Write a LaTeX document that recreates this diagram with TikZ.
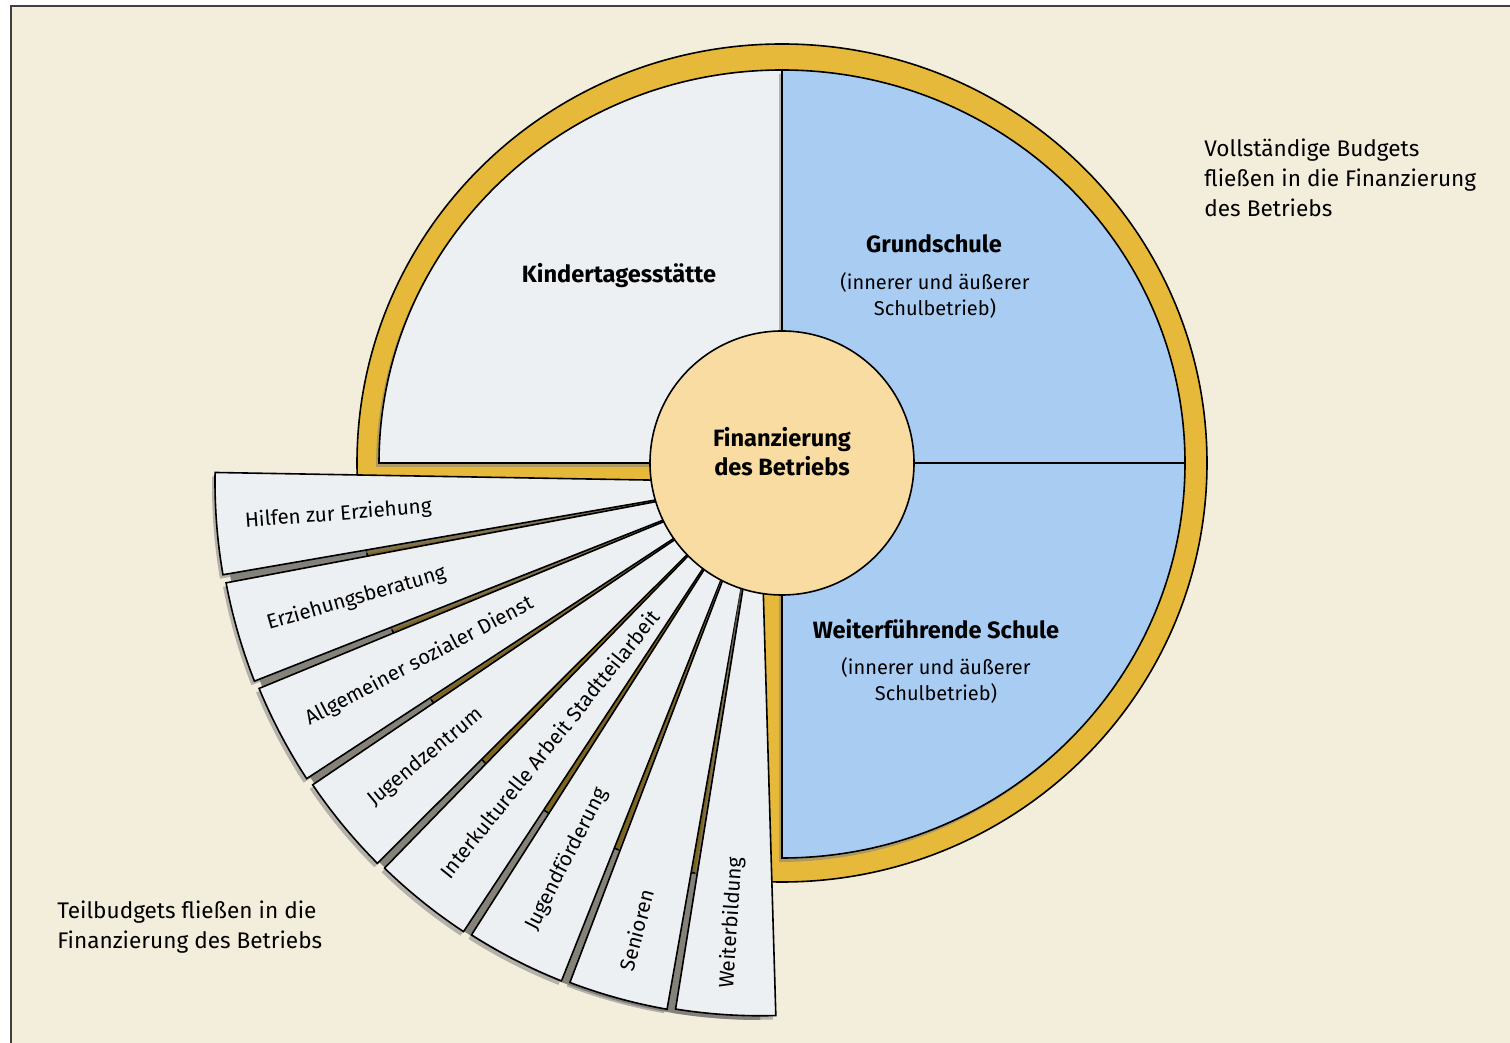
\documentclass[tikz,border=0pt]{standalone}
\usepackage{fontspec}
\setmainfont{Fira Sans}
\usepackage{tikz}
\usetikzlibrary{%
  calc,
  shadows
}
\definecolor{paper}{HTML}{F3EDDC}
\definecolor{gold}{HTML}{E6B93A}
\definecolor{sky}{HTML}{A9CCF3}
\definecolor{core}{HTML}{F8DCA1}
\definecolor{leaf}{HTML}{EDF0F2}
\tikzset{
  outline/.style = {draw = black, line width = 0.8pt},
  shade/.style = {drop shadow = {shadow xshift = -1.5pt, shadow yshift = -2pt, opacity = 0.55}},
  title/.style = {font = \fontsize{11.8}{14.5}\selectfont\bfseries, align = center},
  sub/.style = {font = \fontsize{10}{13}\selectfont, align = center},
  note/.style = {font = \fontsize{11.3}{15}\selectfont, align = left, inner sep = 0, anchor = west}
}

\begin{document}
\begin{tikzpicture}[
      x = 0.5pt, y = 0.5pt,
      ring/.style = {outline, fill = gold},
      quarter/.style = {outline, shade},
      blade/.style = {outline, fill = leaf, shade},
      bladetext/.style = {font = \fontsize{10.3}{12}\selectfont, inner sep = 0},
      hub/.style = {circle, outline, fill = core, minimum size = 132pt, inner sep = 0}
      ]
      \useasboundingbox (0,0) rectangle (1510,1043);
      \fill[paper] (11,0) rectangle (1510,1037);
      \draw[black!75, line width = 1pt] (11,0) -- (11,1037) -- (1510,1037);

      \coordinate (C) at (782,580);
      \coordinate (P) at (760,561);

      % yellow ring
      \draw[ring] (C) ellipse [x radius = 425, y radius = 419];

      % full budgets
      \draw[quarter, fill = leaf] (C) -- ++(-403,0)
        arc [start angle = 180, end angle = 90, x radius = 403, y radius = 393] -- cycle;
      \draw[quarter, fill = sky] (C) -- ++(0,393)
        arc [start angle = 90, end angle = 0, x radius = 403, y radius = 393] -- cycle;
      \draw[quarter, fill = sky] (C) -- ++(403,0)
        arc [start angle = 0, end angle = -90, x radius = 403, y radius = 395] -- cycle;

      % partial budgets (shadow in the gaps first)
      \fill[black, opacity = 0.45] (P) -- ++(181:538) arc [start angle = 181, end angle = 270, radius = 538] -- cycle;
      \foreach \lbl/\d [count = \i from 0] in {
          Hilfen zur Erziehung/423,
          Erziehungsberatung/420,
          Allgemeiner sozialer Dienst/385,
          Jugendzentrum/433,
          Interkulturelle Arbeit Stadtteilarbeit/336,
          Jugendförderung/424,
          Senioren/465,
          Weiterbildung/442} {
        \pgfmathsetmacro\s{179 + 11.7*\i}
        \pgfmathsetmacro\e{\s + 10.8}
        \pgfmathsetmacro\r{545 - 1.6*\i}
        \pgfmathsetmacro\m{(\s + \e)/2}
        \pgfmathsetmacro\rot{\m - 180}
        \draw[blade] (P) -- ++(\s:\r) arc [start angle = \s, end angle = \e, radius = \r] -- cycle;
        \node[bladetext, rotate = \rot] (b\i) at ($(P) + (\m:\d)$) {\lbl};
      }

      \node[hub] (fin) at (C) {};
      \node[title] (finlbl) at (782,591) {Finanzierung\\des Betriebs};

      \node[title] (kita) at (619,767) {Kindertagesstätte};
      \node[title] (gs) at (934,799) {Grundschule};
      \node[sub] (gssub) at (935,747) {(innerer und äußerer\\Schulbetrieb)};
      \node[title] (ws) at (936,414) {Weiterführende Schule};
      \node[sub] (wssub) at (936,362) {(innerer und äußerer\\Schulbetrieb)};

      \node[note] (full) at (1204,865) {Vollständige Budgets\\fließen in die Finanzierung\\des Betriebs};
      \node[note] (part) at (57,116) {Teilbudgets fließen in die\\Finanzierung des Betriebs};
    \end{tikzpicture}
\end{document}
